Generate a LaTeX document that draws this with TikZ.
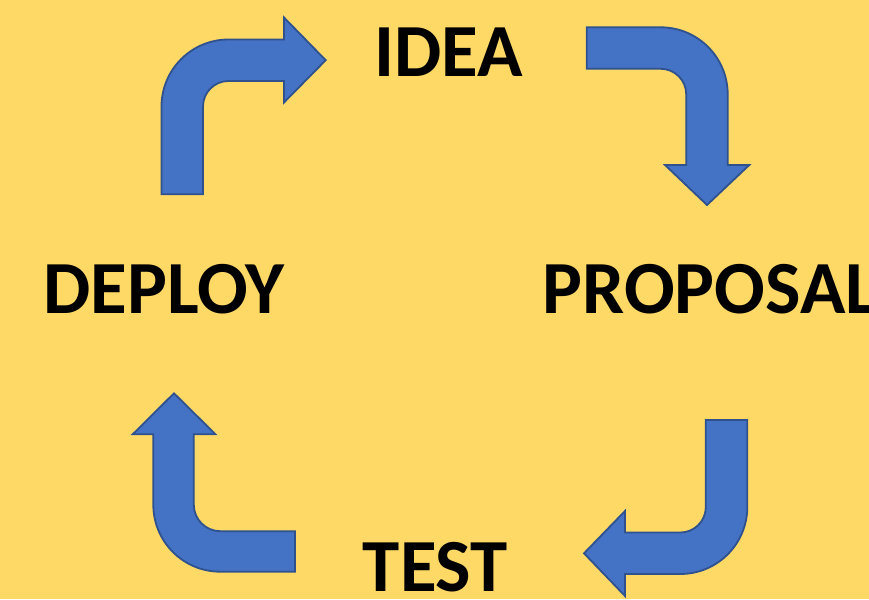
\documentclass[tikz,border=0pt]{standalone}
\usepackage{fontspec}
\setmainfont{Carlito}
\definecolor{bgyellow}{HTML}{FFD966}
\definecolor{arrowblue}{HTML}{4472C4}
\definecolor{arrowedge}{HTML}{2F528F}
\begin{document}
\begin{tikzpicture}[x=1pt,y=-1pt,
  bentarrow/.style={fill=arrowblue,draw=arrowedge,line width=1.8pt,line join=miter},
  stage/.style={inner sep=0pt,font=\bfseries\fontsize{75}{90}\selectfont,text=black}]
  % page and background
  \useasboundingbox (0,0) rectangle (869,599);
  \clip (0,0) rectangle (869,599);
  \fill[bgyellow] (0,0) rectangle (869,599);

  % stage labels
  \node[stage,anchor=base] (idea) at (448.3,76.7) {IDEA};
  \node[stage,anchor=base] (deploy) at (164.2,313.3) {DEPLOY};
  \node[stage,anchor=base west] (proposal) at (542.5,313.3) {PROPOSAL};
  \node[stage,anchor=base] (test) at (435.3,591.7) {TEST};

  % up, then right towards IDEA
  \draw[bentarrow] (161.5,194.3) -- (161.5,106.5)
    arc[start angle=180,end angle=270,radius=67]
    -- (284,39.5) -- (284,17.5) -- (325.7,60.2) -- (284,102.5) -- (284,81)
    -- (228.5,81) arc[start angle=270,end angle=180,radius=25.5]
    -- (203,194.3) -- cycle;

  % right, then down towards PROPOSAL
  \draw[bentarrow] (586.7,27.3) -- (660.7,27.3)
    arc[start angle=270,end angle=360,radius=67]
    -- (727.7,165) -- (749.3,165) -- (707,205) -- (665,165) -- (686.2,165)
    -- (686.2,94.3) arc[start angle=0,end angle=-90,radius=25.5]
    -- (586.7,68.8) -- cycle;

  % down, then left towards TEST
  \draw[bentarrow] (705.8,420) -- (747.3,420) -- (747.3,507)
    arc[start angle=0,end angle=90,radius=67]
    -- (625,574) -- (625,596) -- (584,553.3) -- (625,511) -- (625,532.5)
    -- (680.3,532.5) arc[start angle=90,end angle=0,radius=25.5]
    -- cycle;

  % left, then up towards DEPLOY
  \draw[bentarrow] (295,571.7) -- (220.3,571.7)
    arc[start angle=90,end angle=180,radius=67]
    -- (153.3,434.3) -- (132.7,434.3) -- (174,393.3) -- (215.5,434.3) -- (193.8,434.3)
    -- (193.8,504.7) arc[start angle=180,end angle=90,radius=26.5]
    -- (295,531.2) -- cycle;
\end{tikzpicture}
\end{document}
